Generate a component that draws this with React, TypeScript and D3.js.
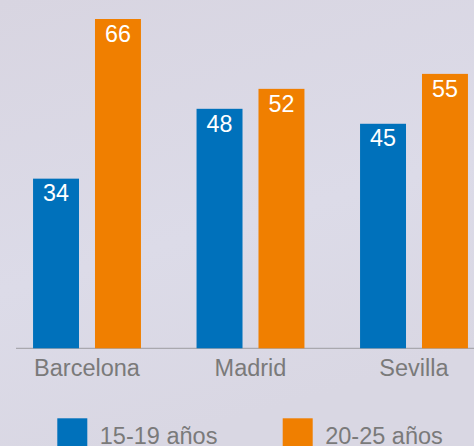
import React from "react";
import * as d3 from "d3";

const categories = ["Barcelona", "Madrid", "Sevilla"];
const seriesNames = ["15-19 años", "20-25 años"];
const values1519 = [34, 48, 45];
const values2025 = [66, 52, 55];
const seriesColors = ["#0071bb", "#f07f00"];

const W = 474;
const H = 446;
const baseline = 348.3;
const FONT = "'Liberation Sans', Arial, sans-serif";

export default function App() {
  const series = [values1519, values2025];
  const x0 = d3
    .scaleBand<string>()
    .domain(categories)
    .range([5.25, 495.75])
    .paddingInner(0.34)
    .paddingOuter(0.17);
  const x1 = d3
    .scaleBand<string>()
    .domain(seriesNames)
    .range([0, x0.bandwidth()])
    .paddingInner(0.258)
    .paddingOuter(0);
  const y = d3.scaleLinear().domain([0, 66]).range([baseline, 19]);

  return (
    <div style={{ position: "absolute", left: 0, top: 0, width: W, height: H, overflow: "hidden" }}>
      <svg width={W} height={H} style={{ display: "block" }}>
        <defs>
          <linearGradient id="bg" x1="0" y1="0" x2="0.3" y2="1">
            <stop offset="0" stopColor="#d8d5e1" />
            <stop offset="0.6" stopColor="#dcdbe8" />
            <stop offset="1" stopColor="#d9d7e3" />
          </linearGradient>
        </defs>
        <rect x={0} y={0} width={W} height={H} fill="url(#bg)" />
        <line x1={16} x2={W} y1={baseline} y2={baseline} stroke="#a9a8ae" strokeWidth={1.2} />
        {categories.map((c, ci) => (
          <g key={c} transform={`translate(${x0(c)},0)`}>
            {seriesNames.map((s, si) => {
              const v = series[si][ci];
              const bx = x1(s)!;
              const bw = x1.bandwidth();
              return (
                <g key={s}>
                  <rect x={bx} y={y(v)} width={bw} height={baseline - y(v)} fill={seriesColors[si]} />
                  <text
                    x={bx + bw / 2}
                    y={y(v) + 22.7}
                    textAnchor="middle"
                    fill="#ffffff"
                    fontFamily={FONT}
                    fontSize={23.3}
                  >
                    {v}
                  </text>
                </g>
              );
            })}
            <text
              x={x0.bandwidth() / 2}
              y={376}
              textAnchor="middle"
              fill="#7a7a7a"
              fontFamily={FONT}
              fontSize={23.5}
            >
              {c}
            </text>
          </g>
        ))}
        {seriesNames.map((s, si) => {
          const lx = [57.3, 282.7][si];
          return (
            <g key={s}>
              <rect x={lx} y={418.3} width={30} height={30} fill={seriesColors[si]} />
              <text x={lx + 42.5} y={443.5} fill="#7a7a7a" fontFamily={FONT} fontSize={23.5}>
                {s}
              </text>
            </g>
          );
        })}
      </svg>
    </div>
  );
}
